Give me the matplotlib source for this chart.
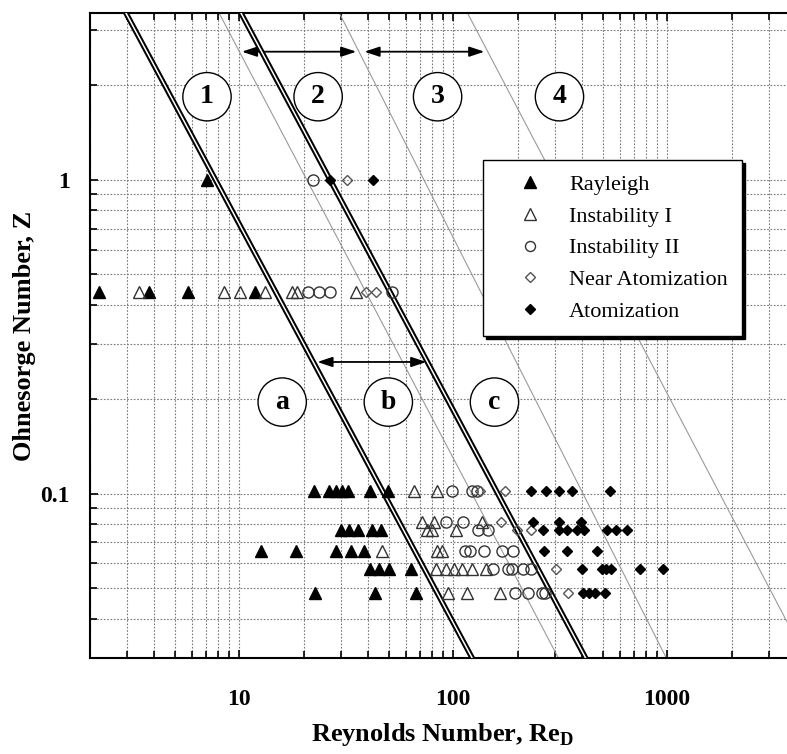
import matplotlib
matplotlib.use("Agg")
import matplotlib.pyplot as plt
import numpy as np
from matplotlib.ticker import LogLocator, NullFormatter, FixedLocator, FixedFormatter

plt.rcParams['font.family'] = ['Liberation Serif', 'DejaVu Serif']
plt.rcParams['mathtext.fontset'] = 'custom'
plt.rcParams['mathtext.rm'] = 'Liberation Serif'
plt.rcParams['mathtext.bf'] = 'Liberation Serif:bold'

# jet breakup observations, Reynolds number vs Ohnesorge number
rayleigh_re = [7.1,
               2.21, 3.79, 5.77, 11.9,
               22.4, 26.4, 28.4, 30.3, 32.4, 41.0, 49.8,
               30.0, 32.7, 36.0, 41.9, 46.2,
               12.7, 18.5, 28.4, 33.4, 38.5,
               41.0, 45.2, 50.3, 63.8,
               22.7, 43.3, 67.0]
rayleigh_z = [1.0,
              0.44, 0.44, 0.44, 0.44,
              0.102, 0.102, 0.102, 0.102, 0.102, 0.102, 0.102,
              0.0768, 0.0768, 0.0768, 0.0768, 0.0768,
              0.0658, 0.0658, 0.0658, 0.0658, 0.0658,
              0.0577, 0.0577, 0.0577, 0.0577,
              0.0484, 0.0484, 0.0484]

instab1_re = [3.40, 8.51, 10.1, 13.2, 17.7, 18.7, 35.3,
              65.9, 84.5,
              71.8, 81.7, 137.0,
              75.8, 80.0, 102.6,
              46.7, 84.5, 89.1,
              83.5, 93.0, 101.4, 110.6, 121.9, 143.2,
              95.0, 116.6, 166.4]
instab1_z = [0.44, 0.44, 0.44, 0.44, 0.44, 0.44, 0.44,
             0.102, 0.102,
             0.0814, 0.0814, 0.0814,
             0.0768, 0.0768, 0.0768,
             0.0658, 0.0658, 0.0658,
             0.0577, 0.0577, 0.0577, 0.0577, 0.0577, 0.0577,
             0.0484, 0.0484, 0.0484]

instab2_re = [22.2,
              21.0, 23.7, 26.7, 52.0,
              99.3, 121.9, 128.6,
              93.0, 111.0,
              130.0, 145.0,
              114.0, 120.0, 140.0, 170.0, 190.0,
              153.0, 180.0, 189.0, 211.0, 232.0,
              194.0, 223.0, 259.0, 270.0]
instab2_z = [1.0,
             0.44, 0.44, 0.44, 0.44,
             0.102, 0.102, 0.102,
             0.0814, 0.0814,
             0.0768, 0.0768,
             0.0658, 0.0658, 0.0658, 0.0658, 0.0658,
             0.0577, 0.0577, 0.0577, 0.0577, 0.0577,
             0.0484, 0.0484, 0.0484, 0.0484]

near_atom_re = [32.0, 39.3, 43.8, 133.0, 174.0, 168.0, 198.0, 232.0, 301.0, 343.0]
near_atom_z = [1.0, 0.44, 0.44, 0.102, 0.102, 0.0814, 0.0768, 0.0768, 0.0577, 0.0484]

atom_re = [26.7, 42.4,
           232.0, 273.0, 314.0, 358.0, 539.0,
           235.0, 314.0, 395.0,
           262.0, 314.0, 339.0, 378.0, 407.0, 522.0, 574.0, 647.0,
           267.0, 339.0, 469.0,
           398.0, 494.0, 518.0, 548.0, 745.0, 953.0,
           403.0, 430.0, 458.0, 511.0]
atom_z = [1.0, 1.0,
          0.102, 0.102, 0.102, 0.102, 0.102,
          0.0814, 0.0814, 0.0814,
          0.0768, 0.0768, 0.0768, 0.0768, 0.0768, 0.0768, 0.0768, 0.0768,
          0.0658, 0.0658, 0.0658,
          0.0577, 0.0577, 0.0577, 0.0577, 0.0577, 0.0577,
          0.0484, 0.0484, 0.0484, 0.0484]

# regime boundaries, each given by two (Re, Z) points on a power law
thick_bounds = [((2.96, 3.4), (119.0, 0.0312)),
                ((10.2, 3.4), (416.0, 0.030))]
thin_bounds = [((8.06, 3.4), (308.0, 0.0303)),
               ((29.4, 3.4), (984.0, 0.0303)),
               ((116.7, 3.4), (3260.0, 0.045))]

regime_labels = ['1', '2', '3', '4', 'a', 'b', 'c']
regime_re = [7.08, 23.4, 84.6, 314.0, 15.9, 49.8, 156.0]
regime_z = [1.84, 1.84, 1.84, 1.84, 0.196, 0.196, 0.196]

fig = plt.figure(figsize=(7.87, 7.54), dpi=100)
ax = fig.add_axes([89.5 / 787, 96 / 754, 706.5 / 787, 645 / 754])
ax.set_xscale('log')
ax.set_yscale('log')
ax.set_xlim(2, 4000)
ax.set_ylim(0.03, 3.4)

grid_kw = dict(color='#7a7a7a', linestyle=(0, (1.5, 1.5)), linewidth=0.8)
ax.grid(True, which='both', **grid_kw)
ax.set_axisbelow(True)


def boundary(p0, p1):
    (x0, y0), (x1, y1) = p0, p1
    m = np.log10(y1 / y0) / np.log10(x1 / x0)
    xs = np.logspace(np.log10(x0) - 0.3, np.log10(x1) + 0.3, 50)
    return xs, y0 * (xs / x0) ** m


for p0, p1 in thin_bounds:
    xs, ys = boundary(p0, p1)
    ax.plot(xs, ys, color='#9a9a9a', lw=0.8, zorder=2)
for p0, p1 in thick_bounds:
    xs, ys = boundary(p0, p1)
    ax.plot(xs, ys, color='black', lw=4.0, zorder=3, solid_capstyle='butt')
    ax.plot(xs, ys, color='white', lw=1.1, zorder=3.1, solid_capstyle='butt')

# range arrows
arrow_kw = dict(arrowstyle='<|-|>,head_length=0.9,head_width=0.3', color='black',
                lw=1.3, shrinkA=0, shrinkB=0)
ax.annotate('', xy=(35.3, 2.56), xytext=(10.3, 2.56), arrowprops=arrow_kw)
ax.annotate('', xy=(140.0, 2.56), xytext=(38.5, 2.56), arrowprops=arrow_kw)
ax.annotate('', xy=(75.0, 0.263), xytext=(23.2, 0.263), arrowprops=arrow_kw)

for lab, x, y in zip(regime_labels, regime_re, regime_z):
    ax.text(x, y, lab, ha='center', va='center', fontsize=20, fontweight='bold',
            zorder=5,
            bbox=dict(boxstyle='circle,pad=0.42', fc='white', ec='black', lw=1.0))

ax.plot(rayleigh_re, rayleigh_z, ls='none', marker='^', ms=9, mfc='black',
        mec='black', label='Rayleigh', zorder=4)
ax.plot(instab1_re, instab1_z, ls='none', marker='^', ms=9, mfc='none',
        mec='#333333', mew=1.0, label='Instability I', zorder=4)
ax.plot(instab2_re, instab2_z, ls='none', marker='o', ms=8, mfc='none',
        mec='#333333', mew=1.0, label='Instability II', zorder=4)
ax.plot(near_atom_re, near_atom_z, ls='none', marker='D', ms=5.5, mfc='none',
        mec='#555555', mew=1.0, label='Near Atomization', zorder=4)
ax.plot(atom_re, atom_z, ls='none', marker='D', ms=5.5, mfc='black',
        mec='black', label='Atomization', zorder=4)

leg = ax.legend(loc='upper left', bbox_to_anchor=(0.557, 0.772), fontsize=16,
                frameon=True, fancybox=False, shadow={'color': 'black', 'alpha': 1},
                edgecolor='black', borderpad=0.65, labelspacing=0.5,
                handletextpad=0.32, handlelength=2.9, markerscale=0.9,
                borderaxespad=0)
leg.get_frame().set_linewidth(1.0)
leg.set_zorder(6)

ax.xaxis.set_major_locator(FixedLocator([10, 100, 1000]))
ax.xaxis.set_major_formatter(FixedFormatter(['10', '100', '1000']))
ax.xaxis.set_minor_locator(LogLocator(base=10, subs=np.arange(2, 10)))
ax.xaxis.set_minor_formatter(NullFormatter())
ax.yaxis.set_major_locator(FixedLocator([0.1, 1]))
ax.yaxis.set_major_formatter(FixedFormatter(['0.1', '1']))
ax.yaxis.set_minor_locator(LogLocator(base=10, subs=np.arange(2, 10)))
ax.yaxis.set_minor_formatter(NullFormatter())

ax.tick_params(which='both', direction='in', top=True, right=True, width=1.2)
ax.tick_params(which='major', length=6, pad=22, labelsize=17)
ax.tick_params(axis='y', which='major', pad=14)
ax.tick_params(which='minor', length=5)
for lab in ax.get_xticklabels() + ax.get_yticklabels():
    lab.set_fontweight('bold')
for sp in ax.spines.values():
    sp.set_linewidth(1.5)

ax.set_xlabel(r'Reynolds Number, Re$_{\mathbf{D}}$', fontsize=19, fontweight='bold',
              labelpad=8)
ax.set_ylabel('Ohnesorge Number, Z', fontsize=19, fontweight='bold', labelpad=3)

fig.savefig('out.png', dpi=100)
